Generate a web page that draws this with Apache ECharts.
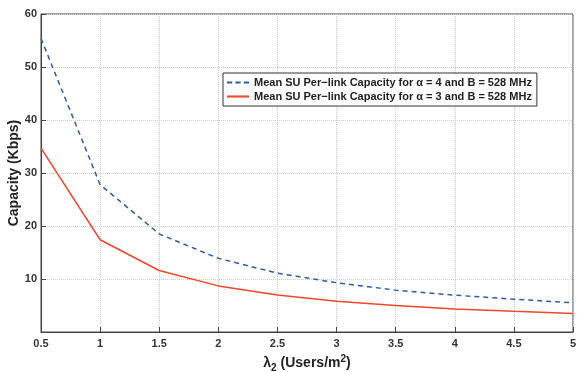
<!DOCTYPE html>
<html>
<head>
<meta charset="utf-8">
<script src="https://cdn.jsdelivr.net/npm/echarts@6/dist/echarts.min.js"></script>
<style>
html,body{margin:0;padding:0;background:#fff;}
#main{width:577px;height:372px;}
</style>
</head>
<body>
<div id="main"></div>
<script>
// x轴: lambda_2
var xData = [0.5, 1, 1.5, 2, 2.5, 3, 3.5, 4, 4.5, 5];
// alpha = 4
var capAlpha4 = [55.4, 27.8, 18.5, 13.9, 11.1, 9.3, 7.9, 6.95, 6.2, 5.5];
// alpha = 3
var capAlpha3 = [34.7, 17.4, 11.6, 8.7, 7.0, 5.8, 5.0, 4.35, 3.9, 3.5];
var names = [
    'Mean SU Per\u2212link Capacity for \u03b1 = 4 and B = 528 MHz',
    'Mean SU Per\u2212link Capacity for \u03b1 = 3 and B = 528 MHz'
];

var font = 'Liberation Sans, Arial, sans-serif';
var myChart = echarts.init(document.getElementById('main'));
var option = {
    animation: false,
    grid: {
        left: 41, right: 4, top: 14, bottom: 40,
        containLabel: false,
        outerBoundsMode: 'none',
        show: true, borderColor: '#444', borderWidth: 1
    },
    legend: {
        orient: 'vertical',
        left: 223, top: 73,
        backgroundColor: '#fff',
        borderColor: '#333', borderWidth: 1,
        padding: [4, 5, 4, 4],
        itemGap: 3,
        itemWidth: 22, itemHeight: 10,
        textStyle: {fontFamily: font, fontWeight: 'bold', fontSize: 11, color: '#222'},
        data: [
            {name: names[0], icon: 'path://M0,4h5v2h-5z M8,4h5v2h-5z M16,4h5v2h-5z'},
            {name: names[1], icon: 'path://M0,4h21v2h-21z'}
        ]
    },
    xAxis: {
        type: 'value',
        min: 0.5, max: 5, interval: 0.5,
        name: '{l|\u03bb}{sub|2}{l| (Users/m}{sup|2}{l|)}',
        nameLocation: 'middle', nameGap: 22,
        nameMoveOverlap: false,
        nameTextStyle: {
            rich: {
                l: {fontFamily: font, fontWeight: 'bold', fontSize: 14, color: '#222'},
                sub: {fontFamily: font, fontWeight: 'bold', fontSize: 10, color: '#222', verticalAlign: 'bottom', padding: [9, 0, 0, 0]},
                sup: {fontFamily: font, fontWeight: 'bold', fontSize: 10, color: '#222', verticalAlign: 'top', padding: [0, 0, 9, 0]}
            }
        },
        axisLine: {lineStyle: {color: '#444'}},
        axisTick: {inside: true, length: 5, lineStyle: {color: '#444'}},
        axisLabel: {fontFamily: font, fontWeight: 'bold', fontSize: 11, color: '#333', margin: 6},
        splitLine: {show: true, lineStyle: {color: '#ccc', type: 'dotted'}}
    },
    yAxis: {
        type: 'value',
        min: 0, max: 60, interval: 10,
        name: 'Capacity (Kbps)',
        nameLocation: 'middle', nameGap: 20,
        nameMoveOverlap: false,
        nameTextStyle: {fontFamily: font, fontWeight: 'bold', fontSize: 14, color: '#222'},
        axisLine: {show: true, lineStyle: {color: '#444'}},
        axisTick: {inside: true, length: 5, lineStyle: {color: '#444'}},
        axisLabel: {fontFamily: font, fontWeight: 'bold', fontSize: 11, color: '#333', margin: 4, showMinLabel: false},
        splitLine: {show: true, lineStyle: {color: '#ccc', type: 'dotted'}}
    },
    series: [
        {
            name: names[0],
            type: 'line',
            data: xData.map(function (x, i) { return [x, capAlpha4[i]]; }),
            symbol: 'none',
            lineStyle: {color: '#2E5CA8', width: 1.5, type: [5, 4]},
            itemStyle: {color: '#2E5CA8'}
        },
        {
            name: names[1],
            type: 'line',
            data: xData.map(function (x, i) { return [x, capAlpha3[i]]; }),
            symbol: 'none',
            lineStyle: {color: '#F2462A', width: 1.5},
            itemStyle: {color: '#F2462A'}
        }
    ]
};
myChart.setOption(option);
</script>
</body>
</html>
